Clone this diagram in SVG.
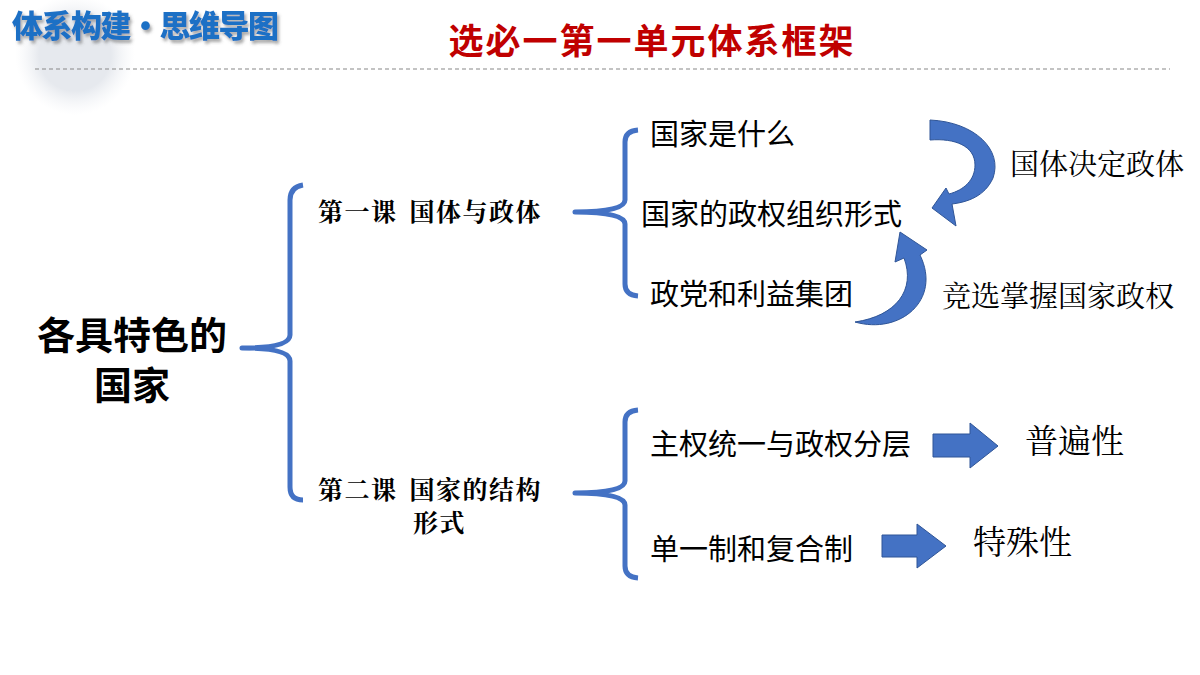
<svg xmlns="http://www.w3.org/2000/svg" width="1200" height="675" viewBox="0 0 1200 675">
<defs>
<filter id="sh" x="-10%" y="-10%" width="130%" height="150%"><feDropShadow dx="2" dy="3" stdDeviation="1.5" flood-color="#555" flood-opacity="0.5"/></filter>
<radialGradient id="cg"><stop offset="0.6" stop-color="#e6e9ee"/><stop offset="1" stop-color="#f2f4f7" stop-opacity="0"/></radialGradient>
</defs>
<style>
.br{fill:none;stroke:#4472C4;stroke-width:5;stroke-linejoin:round}
.bl{fill:#4472C4;stroke:#2F5597;stroke-width:1}
.s{font-family:"Noto Sans CJK SC","Noto Sans",sans-serif;fill:#000}
.sf{font-family:"Noto Serif CJK SC","Noto Sans CJK SC",serif;fill:#000}
</style>
<rect width="1200" height="675" fill="#fff"/>
<circle cx="75" cy="55" r="60" fill="url(#cg)"/>
<text x="12" y="37" font-family="'Noto Sans CJK SC',sans-serif" font-weight="900" font-size="31" letter-spacing="-1.5" fill="#1F6FC5" filter="url(#sh)">体系构建•思维导图</text>
<line x1="35" y1="69" x2="1170" y2="69" stroke="#888" stroke-width="1.2" stroke-dasharray="4,3"/>
<text x="652" y="54" text-anchor="middle" font-family="'Noto Sans CJK SC',sans-serif" font-weight="bold" font-size="35" letter-spacing="2" fill="#C00000">选必一第一单元体系框架</text>
<g id="root"><text class="s" x="132" y="349" text-anchor="middle" font-size="38" font-weight="bold">各具特色的</text><text class="s" x="132" y="399" text-anchor="middle" font-size="38" font-weight="bold">国家</text></g>
<g id="connectors">
<path class="br" d="M303,185 Q290,187 290,200 L290,335 Q290,348 242,348 Q290,348 290,361 L290,487 Q290,500 303,500"/>
<path class="br" d="M638,130 Q625,131 625,142 L625,200 Q625,212 575,212 Q625,212 625,224 L625,284 Q625,295 638,296"/>
<path class="br" d="M638,410 Q625,411 625,422 L625,481 Q625,493 575,493 Q625,493 625,505 L625,566 Q625,577 638,578"/>
<path class="bl" d="M930,120 C975,122 1003,150 993,178 C985,196 968,202 952,204 L956,226 L932,208 L946,188 L949,194 C964,190 975,180 975,165 C975,146 955,138 930,140 Z"/>
<path class="bl" d="M855,322 C900,335 942,300 920,255 L927,250 L900,232 L895,262 L904,258 C916,290 896,316 855,322 Z"/>
<path class="bl" d="M933,434 L970,434 L970,423 L998,446 L970,468 L970,457 L933,457 Z"/>
<path class="bl" d="M882,535 L917,535 L917,524 L946,546 L917,568 L917,557 L882,557 Z"/>
</g>
<g id="l1"><text class="sf" x="318" y="221" font-size="25" font-weight="bold" letter-spacing="1.5">第一课<tspan dx="12">国体与政体</tspan></text></g>
<g id="l2"><text class="sf" x="318" y="499" font-size="25" font-weight="bold" letter-spacing="1.5">第二课<tspan dx="12">国家的结构</tspan></text><text class="sf" x="413" y="532" font-size="25" font-weight="bold" letter-spacing="1.5">形式</text></g>
<g id="n1"><text class="s" x="650" y="145" font-size="29">国家是什么</text></g>
<g id="n2"><text class="s" x="641" y="225" font-size="29">国家的政权组织形式</text></g>
<g id="n3"><text class="s" x="650" y="305" font-size="29">政党和利益集团</text></g>
<g id="n4"><text class="s" x="650" y="455" font-size="29">主权统一与政权分层</text></g>
<g id="n5"><text class="s" x="650" y="560" font-size="29">单一制和复合制</text></g>
<g id="e1"><text class="sf" x="1010" y="175" font-size="29">国体决定政体</text></g>
<g id="e2"><text class="sf" x="942" y="307" font-size="29">竞选掌握国家政权</text></g>
<g id="e3"><text class="sf" x="1025" y="453" font-size="33">普遍性</text></g>
<g id="e4"><text class="sf" x="973" y="554" font-size="33">特殊性</text></g>
</svg>
